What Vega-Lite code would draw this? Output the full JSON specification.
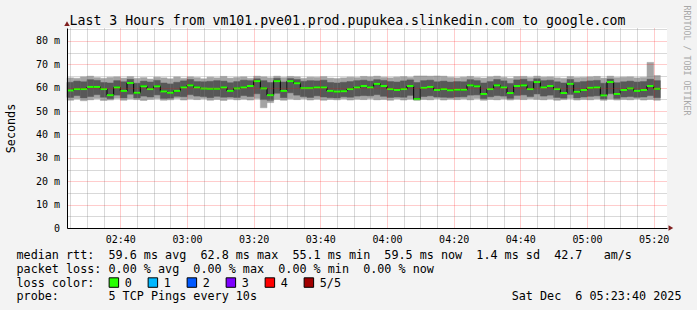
{
  "$schema": "https://vega.github.io/schema/vega-lite/v6.json",
  "width": 600,
  "height": 200,
  "autosize": "none",
  "padding": {"left": 67, "top": 28, "right": 30, "bottom": 82},
  "background": "#f3f3f3",
  "config": {
    "view": {"stroke": null, "fill": "#ffffff"},
    "font": "DejaVu Sans Mono",
    "axis": {"labelFont": "DejaVu Sans Mono", "titleFont": "DejaVu Sans Mono", "labelColor": "#000000", "titleColor": "#000000", "titleFontWeight": "normal"},
    "legend": {"labelFont": "DejaVu Sans Mono", "titleFont": "DejaVu Sans Mono"}
  },
  "title": {
    "text": "Last 3 Hours from vm101.pve01.prod.pupukea.slinkedin.com to google.com",
    "font": "DejaVu Sans Mono",
    "fontSize": 13.2,
    "fontWeight": "normal",
    "color": "#000000",
    "anchor": "middle",
    "dx": -19.5,
    "dy": 37,
    "baseline": "alphabetic",
    "offset": 4
  },
  "datasets": {
    "smoke": [
      {"t": "2025-12-06T02:24", "t2": "2025-12-06T02:26", "lo": 54.6, "q1": 55.8, "med": 58.8, "q3": 62.3, "hi": 64.2},
      {"t": "2025-12-06T02:26", "t2": "2025-12-06T02:28", "lo": 55.2, "q1": 56.6, "med": 59.4, "q3": 62.8, "hi": 64.0},
      {"t": "2025-12-06T02:28", "t2": "2025-12-06T02:30", "lo": 54.4, "q1": 55.6, "med": 59.4, "q3": 62.5, "hi": 64.6},
      {"t": "2025-12-06T02:30", "t2": "2025-12-06T02:32", "lo": 54.8, "q1": 56.2, "med": 60.3, "q3": 63.4, "hi": 64.9},
      {"t": "2025-12-06T02:32", "t2": "2025-12-06T02:34", "lo": 55.3, "q1": 57.0, "med": 60.3, "q3": 63.1, "hi": 64.3},
      {"t": "2025-12-06T02:34", "t2": "2025-12-06T02:36", "lo": 54.5, "q1": 55.9, "med": 59.4, "q3": 62.2, "hi": 64.0},
      {"t": "2025-12-06T02:36", "t2": "2025-12-06T02:38", "lo": 54.7, "q1": 55.3, "med": 56.8, "q3": 62.0, "hi": 64.4},
      {"t": "2025-12-06T02:38", "t2": "2025-12-06T02:40", "lo": 55.4, "q1": 56.8, "med": 60.1, "q3": 63.0, "hi": 64.6},
      {"t": "2025-12-06T02:40", "t2": "2025-12-06T02:42", "lo": 54.6, "q1": 55.6, "med": 58.6, "q3": 62.5, "hi": 64.1},
      {"t": "2025-12-06T02:42", "t2": "2025-12-06T02:44", "lo": 55.2, "q1": 57.2, "med": 62.0, "q3": 63.6, "hi": 64.7},
      {"t": "2025-12-06T02:44", "t2": "2025-12-06T02:46", "lo": 54.9, "q1": 55.6, "med": 57.8, "q3": 61.9, "hi": 64.0},
      {"t": "2025-12-06T02:46", "t2": "2025-12-06T02:48", "lo": 54.5, "q1": 56.4, "med": 60.6, "q3": 62.8, "hi": 64.3},
      {"t": "2025-12-06T02:48", "t2": "2025-12-06T02:50", "lo": 55.0, "q1": 56.0, "med": 59.4, "q3": 62.4, "hi": 63.7},
      {"t": "2025-12-06T02:50", "t2": "2025-12-06T02:52", "lo": 55.3, "q1": 56.9, "med": 60.6, "q3": 63.1, "hi": 64.5},
      {"t": "2025-12-06T02:52", "t2": "2025-12-06T02:54", "lo": 54.6, "q1": 55.4, "med": 58.4, "q3": 62.0, "hi": 64.2},
      {"t": "2025-12-06T02:54", "t2": "2025-12-06T02:56", "lo": 54.8, "q1": 55.5, "med": 57.8, "q3": 61.6, "hi": 63.8},
      {"t": "2025-12-06T02:56", "t2": "2025-12-06T02:58", "lo": 55.4, "q1": 56.3, "med": 58.6, "q3": 62.3, "hi": 64.6},
      {"t": "2025-12-06T02:58", "t2": "2025-12-06T03:00", "lo": 54.7, "q1": 56.1, "med": 60.1, "q3": 62.9, "hi": 64.0},
      {"t": "2025-12-06T03:00", "t2": "2025-12-06T03:02", "lo": 55.2, "q1": 57.0, "med": 61.0, "q3": 63.5, "hi": 64.6},
      {"t": "2025-12-06T03:02", "t2": "2025-12-06T03:04", "lo": 54.9, "q1": 56.4, "med": 60.1, "q3": 62.6, "hi": 64.3},
      {"t": "2025-12-06T03:04", "t2": "2025-12-06T03:06", "lo": 55.3, "q1": 56.2, "med": 59.6, "q3": 62.5, "hi": 63.8},
      {"t": "2025-12-06T03:06", "t2": "2025-12-06T03:08", "lo": 54.6, "q1": 55.7, "med": 59.5, "q3": 62.7, "hi": 64.5},
      {"t": "2025-12-06T03:08", "t2": "2025-12-06T03:10", "lo": 55.0, "q1": 56.3, "med": 59.5, "q3": 63.0, "hi": 64.2},
      {"t": "2025-12-06T03:10", "t2": "2025-12-06T03:12", "lo": 54.5, "q1": 55.9, "med": 60.1, "q3": 62.8, "hi": 64.8},
      {"t": "2025-12-06T03:12", "t2": "2025-12-06T03:14", "lo": 55.2, "q1": 56.0, "med": 58.6, "q3": 62.1, "hi": 64.1},
      {"t": "2025-12-06T03:14", "t2": "2025-12-06T03:16", "lo": 54.8, "q1": 55.8, "med": 59.7, "q3": 62.6, "hi": 64.4},
      {"t": "2025-12-06T03:16", "t2": "2025-12-06T03:18", "lo": 55.1, "q1": 56.6, "med": 60.1, "q3": 63.2, "hi": 64.6},
      {"t": "2025-12-06T03:18", "t2": "2025-12-06T03:20", "lo": 54.7, "q1": 56.2, "med": 60.7, "q3": 63.0, "hi": 64.0},
      {"t": "2025-12-06T03:20", "t2": "2025-12-06T03:22", "lo": 55.3, "q1": 57.4, "med": 62.8, "q3": 63.8, "hi": 64.9},
      {"t": "2025-12-06T03:22", "t2": "2025-12-06T03:24", "lo": 51.4, "q1": 54.9, "med": 59.7, "q3": 63.0, "hi": 64.6},
      {"t": "2025-12-06T03:24", "t2": "2025-12-06T03:26", "lo": 53.6, "q1": 54.6, "med": 56.8, "q3": 62.2, "hi": 64.2},
      {"t": "2025-12-06T03:26", "t2": "2025-12-06T03:28", "lo": 55.0, "q1": 57.6, "med": 62.8, "q3": 64.0, "hi": 64.9},
      {"t": "2025-12-06T03:28", "t2": "2025-12-06T03:30", "lo": 54.6, "q1": 55.7, "med": 58.6, "q3": 62.4, "hi": 64.3},
      {"t": "2025-12-06T03:30", "t2": "2025-12-06T03:32", "lo": 55.2, "q1": 57.8, "med": 62.8, "q3": 63.9, "hi": 64.8},
      {"t": "2025-12-06T03:32", "t2": "2025-12-06T03:34", "lo": 54.9, "q1": 56.8, "med": 61.9, "q3": 63.5, "hi": 64.6},
      {"t": "2025-12-06T03:34", "t2": "2025-12-06T03:36", "lo": 55.3, "q1": 56.2, "med": 59.8, "q3": 62.7, "hi": 64.0},
      {"t": "2025-12-06T03:36", "t2": "2025-12-06T03:38", "lo": 54.7, "q1": 55.8, "med": 59.8, "q3": 63.0, "hi": 64.5},
      {"t": "2025-12-06T03:38", "t2": "2025-12-06T03:40", "lo": 55.1, "q1": 56.5, "med": 60.1, "q3": 62.9, "hi": 64.4},
      {"t": "2025-12-06T03:40", "t2": "2025-12-06T03:42", "lo": 54.6, "q1": 56.0, "med": 60.1, "q3": 63.2, "hi": 64.7},
      {"t": "2025-12-06T03:42", "t2": "2025-12-06T03:44", "lo": 55.0, "q1": 55.7, "med": 58.6, "q3": 62.2, "hi": 64.1},
      {"t": "2025-12-06T03:44", "t2": "2025-12-06T03:46", "lo": 54.8, "q1": 55.6, "med": 58.3, "q3": 62.0, "hi": 63.9},
      {"t": "2025-12-06T03:46", "t2": "2025-12-06T03:48", "lo": 55.2, "q1": 56.1, "med": 58.5, "q3": 62.3, "hi": 64.2},
      {"t": "2025-12-06T03:48", "t2": "2025-12-06T03:50", "lo": 54.7, "q1": 55.9, "med": 59.4, "q3": 62.6, "hi": 64.5},
      {"t": "2025-12-06T03:50", "t2": "2025-12-06T03:52", "lo": 55.1, "q1": 56.4, "med": 60.1, "q3": 63.0, "hi": 64.3},
      {"t": "2025-12-06T03:52", "t2": "2025-12-06T03:54", "lo": 54.9, "q1": 56.6, "med": 60.7, "q3": 63.2, "hi": 64.8},
      {"t": "2025-12-06T03:54", "t2": "2025-12-06T03:56", "lo": 55.3, "q1": 56.5, "med": 60.1, "q3": 62.8, "hi": 64.6},
      {"t": "2025-12-06T03:56", "t2": "2025-12-06T03:58", "lo": 54.8, "q1": 57.0, "med": 61.6, "q3": 63.4, "hi": 64.9},
      {"t": "2025-12-06T03:58", "t2": "2025-12-06T04:00", "lo": 55.0, "q1": 56.3, "med": 60.7, "q3": 63.1, "hi": 64.4},
      {"t": "2025-12-06T04:00", "t2": "2025-12-06T04:02", "lo": 54.6, "q1": 55.8, "med": 59.4, "q3": 62.6, "hi": 64.2},
      {"t": "2025-12-06T04:02", "t2": "2025-12-06T04:04", "lo": 55.2, "q1": 56.0, "med": 59.0, "q3": 62.4, "hi": 64.5},
      {"t": "2025-12-06T04:04", "t2": "2025-12-06T04:06", "lo": 54.7, "q1": 55.9, "med": 59.4, "q3": 62.9, "hi": 64.7},
      {"t": "2025-12-06T04:06", "t2": "2025-12-06T04:08", "lo": 55.1, "q1": 56.7, "med": 60.7, "q3": 63.3, "hi": 64.4},
      {"t": "2025-12-06T04:08", "t2": "2025-12-06T04:10", "lo": 54.6, "q1": 54.9, "med": 55.1, "q3": 62.2, "hi": 65.0},
      {"t": "2025-12-06T04:10", "t2": "2025-12-06T04:12", "lo": 55.0, "q1": 56.2, "med": 59.9, "q3": 63.0, "hi": 65.0},
      {"t": "2025-12-06T04:12", "t2": "2025-12-06T04:14", "lo": 54.8, "q1": 56.5, "med": 60.3, "q3": 63.2, "hi": 64.9},
      {"t": "2025-12-06T04:14", "t2": "2025-12-06T04:16", "lo": 55.3, "q1": 56.0, "med": 59.0, "q3": 62.5, "hi": 65.0},
      {"t": "2025-12-06T04:16", "t2": "2025-12-06T04:18", "lo": 54.7, "q1": 55.9, "med": 59.4, "q3": 62.8, "hi": 64.9},
      {"t": "2025-12-06T04:18", "t2": "2025-12-06T04:20", "lo": 55.1, "q1": 55.8, "med": 58.9, "q3": 62.4, "hi": 64.4},
      {"t": "2025-12-06T04:20", "t2": "2025-12-06T04:22", "lo": 54.9, "q1": 56.0, "med": 59.1, "q3": 62.6, "hi": 64.2},
      {"t": "2025-12-06T04:22", "t2": "2025-12-06T04:24", "lo": 55.2, "q1": 56.1, "med": 59.1, "q3": 62.5, "hi": 64.5},
      {"t": "2025-12-06T04:24", "t2": "2025-12-06T04:26", "lo": 54.8, "q1": 56.8, "med": 61.0, "q3": 63.4, "hi": 64.8},
      {"t": "2025-12-06T04:26", "t2": "2025-12-06T04:28", "lo": 55.3, "q1": 56.9, "med": 60.6, "q3": 63.0, "hi": 64.3},
      {"t": "2025-12-06T04:28", "t2": "2025-12-06T04:30", "lo": 54.6, "q1": 55.3, "med": 57.3, "q3": 62.0, "hi": 64.1},
      {"t": "2025-12-06T04:30", "t2": "2025-12-06T04:32", "lo": 55.0, "q1": 56.1, "med": 59.4, "q3": 62.6, "hi": 64.6},
      {"t": "2025-12-06T04:32", "t2": "2025-12-06T04:34", "lo": 54.8, "q1": 56.6, "med": 61.0, "q3": 63.5, "hi": 64.9},
      {"t": "2025-12-06T04:34", "t2": "2025-12-06T04:36", "lo": 55.2, "q1": 56.4, "med": 60.1, "q3": 62.9, "hi": 64.4},
      {"t": "2025-12-06T04:36", "t2": "2025-12-06T04:38", "lo": 54.7, "q1": 55.4, "med": 57.7, "q3": 61.8, "hi": 64.0},
      {"t": "2025-12-06T04:38", "t2": "2025-12-06T04:40", "lo": 55.1, "q1": 56.7, "med": 60.7, "q3": 63.3, "hi": 64.7},
      {"t": "2025-12-06T04:40", "t2": "2025-12-06T04:42", "lo": 54.9, "q1": 56.9, "med": 61.0, "q3": 63.6, "hi": 64.8},
      {"t": "2025-12-06T04:42", "t2": "2025-12-06T04:44", "lo": 55.3, "q1": 56.2, "med": 59.4, "q3": 62.7, "hi": 64.3},
      {"t": "2025-12-06T04:44", "t2": "2025-12-06T04:46", "lo": 55.0, "q1": 57.3, "med": 62.4, "q3": 63.8, "hi": 64.9},
      {"t": "2025-12-06T04:46", "t2": "2025-12-06T04:48", "lo": 54.8, "q1": 56.4, "med": 60.1, "q3": 63.0, "hi": 64.5},
      {"t": "2025-12-06T04:48", "t2": "2025-12-06T04:50", "lo": 55.2, "q1": 56.8, "med": 60.7, "q3": 63.2, "hi": 64.6},
      {"t": "2025-12-06T04:50", "t2": "2025-12-06T04:52", "lo": 54.6, "q1": 55.8, "med": 59.4, "q3": 62.5, "hi": 64.2},
      {"t": "2025-12-06T04:52", "t2": "2025-12-06T04:54", "lo": 54.9, "q1": 55.5, "med": 57.7, "q3": 62.0, "hi": 64.0},
      {"t": "2025-12-06T04:54", "t2": "2025-12-06T04:56", "lo": 55.3, "q1": 57.1, "med": 61.6, "q3": 63.5, "hi": 64.7},
      {"t": "2025-12-06T04:56", "t2": "2025-12-06T04:58", "lo": 54.7, "q1": 55.6, "med": 58.2, "q3": 62.3, "hi": 64.3},
      {"t": "2025-12-06T04:58", "t2": "2025-12-06T05:00", "lo": 55.0, "q1": 56.0, "med": 59.0, "q3": 62.6, "hi": 64.4},
      {"t": "2025-12-06T05:00", "t2": "2025-12-06T05:02", "lo": 54.8, "q1": 56.3, "med": 59.9, "q3": 62.9, "hi": 64.6},
      {"t": "2025-12-06T05:02", "t2": "2025-12-06T05:04", "lo": 55.2, "q1": 56.5, "med": 60.1, "q3": 63.1, "hi": 64.8},
      {"t": "2025-12-06T05:04", "t2": "2025-12-06T05:06", "lo": 54.6, "q1": 55.2, "med": 56.7, "q3": 61.9, "hi": 64.1},
      {"t": "2025-12-06T05:06", "t2": "2025-12-06T05:08", "lo": 55.1, "q1": 57.4, "med": 62.4, "q3": 63.7, "hi": 64.9},
      {"t": "2025-12-06T05:08", "t2": "2025-12-06T05:10", "lo": 54.7, "q1": 55.4, "med": 57.3, "q3": 62.1, "hi": 64.3},
      {"t": "2025-12-06T05:10", "t2": "2025-12-06T05:12", "lo": 55.0, "q1": 56.0, "med": 59.0, "q3": 62.5, "hi": 64.5},
      {"t": "2025-12-06T05:12", "t2": "2025-12-06T05:14", "lo": 54.8, "q1": 56.2, "med": 59.7, "q3": 62.8, "hi": 64.6},
      {"t": "2025-12-06T05:14", "t2": "2025-12-06T05:16", "lo": 55.2, "q1": 55.9, "med": 58.6, "q3": 62.4, "hi": 64.2},
      {"t": "2025-12-06T05:16", "t2": "2025-12-06T05:18", "lo": 54.7, "q1": 56.0, "med": 59.0, "q3": 62.6, "hi": 64.4},
      {"t": "2025-12-06T05:18", "t2": "2025-12-06T05:20", "lo": 55.0, "q1": 56.6, "med": 60.7, "q3": 63.6, "hi": 70.8},
      {"t": "2025-12-06T05:20", "t2": "2025-12-06T05:22", "lo": 54.6, "q1": 55.7, "med": 59.5, "q3": 63.0, "hi": 65.2}
    ],
    "arrows": [
      {"t": "2025-12-06T02:24", "v": 87.4, "s": "triangle-up"},
      {"t": "2025-12-06T05:25:10", "v": 0, "s": "triangle-right"}
    ]
  },
  "data": {"name": "smoke"},
  "encoding": {
    "x": {
      "field": "t",
      "type": "temporal",
      "scale": {"domain": [{"year": 2025, "month": 12, "date": 6, "hours": 2, "minutes": 24}, {"year": 2025, "month": 12, "date": 6, "hours": 5, "minutes": 24}]},
      "axis": {
        "title": [
          "median\u00a0rtt:\u00a0\u00a059.6\u00a0ms\u00a0avg\u00a0\u00a062.8\u00a0ms\u00a0max\u00a0\u00a055.1\u00a0ms\u00a0min\u00a0\u00a059.5\u00a0ms\u00a0now\u00a0\u00a01.4\u00a0ms\u00a0sd\u00a0\u00a042.7\u00a0\u00a0\u00a0am/s",
          "packet\u00a0loss:\u00a00.00\u00a0%\u00a0avg\u00a0\u00a00.00\u00a0%\u00a0max\u00a0\u00a00.00\u00a0%\u00a0min\u00a0\u00a00.00\u00a0%\u00a0now",
          "loss\u00a0color:",
          "probe:\u00a0\u00a0\u00a0\u00a0\u00a0\u00a0\u00a05\u00a0TCP\u00a0Pings\u00a0every\u00a010s\u00a0\u00a0\u00a0\u00a0\u00a0\u00a0\u00a0\u00a0\u00a0\u00a0\u00a0\u00a0\u00a0\u00a0\u00a0\u00a0\u00a0\u00a0\u00a0\u00a0\u00a0\u00a0\u00a0\u00a0\u00a0\u00a0\u00a0\u00a0\u00a0\u00a0\u00a0\u00a0\u00a0\u00a0\u00a0\u00a0Sat\u00a0Dec\u00a0\u00a06\u00a005:23:40\u00a02025"
        ],
        "tickCount": 36,
        "labelExpr": "minutes(datum.value) % 20 === 0 ? timeFormat(datum.value, '%H:%M') : ''",
        "labelFontSize": 10,
        "labelPadding": 6,
        "labelOverlap": false,
        "labelFlush": false,
        "labelBound": false,
        "ticks": false,
        "domainColor": "#000000",
        "grid": true,
        "gridColor": {"condition": {"test": "minutes(datum.value) % 20 === 0", "value": "#ff0000"}, "value": "#808080"},
        "gridOpacity": {"condition": {"test": "minutes(datum.value) % 20 === 0", "value": 0.4}, "value": 0.6},
        "gridDash": [1, 1],
        "zindex": 1,
        "titleFontSize": 11.75,
        "titleAnchor": "start",
        "titleAlign": "left",
        "titleBaseline": "alphabetic",
        "titleX": -51,
        "titleY": 30.6,
        "titleLineHeight": 13.8,
        "titleLimit": 2000
      }
    }
  },
  "layer": [
    {
      "mark": {"type": "rect", "color": "#a4a4a4", "stroke": "#a4a4a4", "strokeWidth": 0.5},
      "encoding": {
        "x2": {"field": "t2"},
        "y": {
          "field": "lo",
          "type": "quantitative",
          "scale": {"domain": [0, 85.5], "nice": false},
          "axis": {
            "orient": "left",
            "title": "Seconds",
            "values": [0, 5, 10, 15, 20, 25, 30, 35, 40, 45, 50, 55, 60, 65, 70, 75, 80, 85],
            "labelExpr": "datum.value % 10 !== 0 ? '' : (datum.value === 0 ? '0' : datum.value + ' m')",
            "labelFontSize": 10,
            "labelPadding": 7.5,
            "labelOverlap": false,
            "labelFlush": false,
            "ticks": false,
            "domainColor": "#000000",
            "grid": true,
            "gridColor": {"condition": {"test": "datum.value % 10 === 0", "value": "#ff0000"}, "value": "#808080"},
            "gridOpacity": {"condition": {"test": "datum.value % 10 === 0", "value": 0.4}, "value": 0.6},
            "gridDash": [1, 1],
            "zindex": 1,
            "titleFontSize": 11.75,
            "titleAngle": -90,
            "titleX": -57,
            "titleY": 100,
            "titleAlign": "center",
            "titleBaseline": "middle"
          }
        },
        "y2": {"field": "hi"}
      }
    },
    {
      "mark": {"type": "rect", "color": "#585858", "stroke": "#585858", "strokeWidth": 0.5},
      "encoding": {
        "x2": {"field": "t2"},
        "y": {"field": "q1", "type": "quantitative", "axis": null},
        "y2": {"field": "q3"}
      }
    },
    {
      "mark": {"type": "line", "interpolate": "step-after", "color": "#000000", "strokeWidth": 1},
      "encoding": {
        "y": {
          "field": "med",
          "type": "quantitative",
          "axis": {
            "orient": "right",
            "title": "RRDTOOL / TOBI OETIKER",
            "labels": false,
            "ticks": false,
            "domain": false,
            "grid": false,
            "titleAngle": 90,
            "titleX": 18,
            "titleY": 32,
            "titleAlign": "center",
            "titleBaseline": "middle",
            "titleFontSize": 8.3,
            "titleColor": "#a8a8a8"
          }
        }
      }
    },
    {
      "mark": {"type": "rect", "stroke": "#000000", "strokeWidth": 1},
      "encoding": {
        "x2": {"field": "t2"},
        "y": {"field": "med", "type": "quantitative", "axis": null},
        "y2": {"field": "med"},
        "color": {
          "datum": "0",
          "type": "nominal",
          "scale": {"domain": ["0", "1", "2", "3", "4", "5/5"], "range": ["#26ff00", "#00b8ff", "#0059ff", "#7e00ff", "#ff0000", "#a10000"]},
          "legend": {
            "title": null,
            "orient": "none",
            "legendX": 41,
            "legendY": 248.5,
            "direction": "horizontal",
            "symbolType": "square",
            "symbolSize": 90,
            "symbolStrokeWidth": 1,
            "symbolStrokeColor": "#000000",
            "symbolOpacity": 1,
            "labelFontSize": 11.75,
            "labelColor": "#000000",
            "labelOffset": 5,
            "columnPadding": 14,
            "padding": 0
          }
        }
      }
    },
    {
      "mark": {"type": "rule", "strokeWidth": 2, "color": "#26ff00"},
      "encoding": {
        "x2": {"field": "t2"},
        "y": {"field": "med", "type": "quantitative", "axis": null}
      }
    },
    {
      "data": {"name": "arrows"},
      "mark": {"type": "point", "filled": true, "color": "#7f1f1f", "size": 30, "opacity": 1},
      "encoding": {
        "y": {"field": "v", "type": "quantitative", "axis": null},
        "shape": {"field": "s", "type": "nominal", "scale": null}
      }
    }
  ],
  "resolve": {"axis": {"y": "independent"}}
}
